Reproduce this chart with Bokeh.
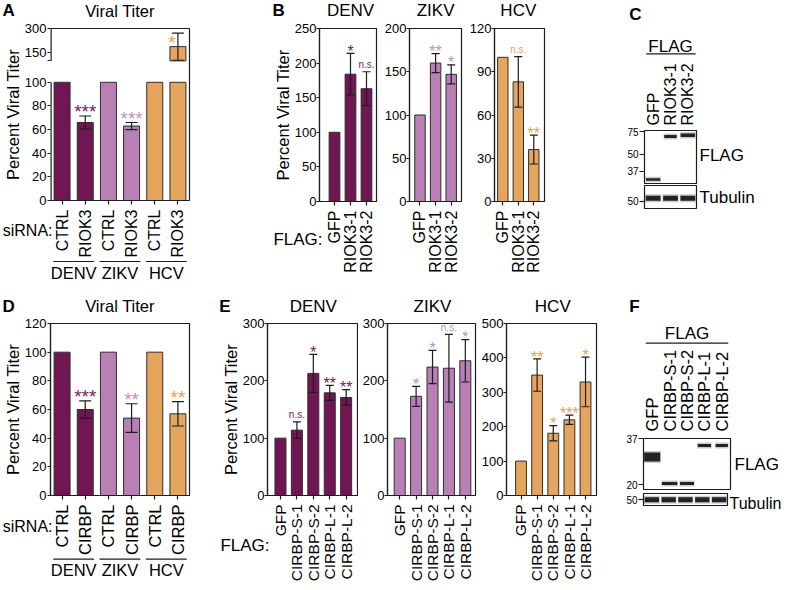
import math
from bokeh.plotting import figure
from bokeh.models import (Range1d, FixedTicker, LinearAxis, LogAxis, Whisker, TeeHead,
                          ColumnDataSource, BasicTickFormatter)
from bokeh.layouts import row, column
from bokeh.embed import file_html
from bokeh.resources import INLINE
from bokeh.core.properties import value

FONT = "Liberation Sans"
INK = "#1c1c1c"
EDGE = "#2e2e2e"
FILL = {"DENV": "#701652", "ZIKV": "#b980b6", "HCV": "#e6a55f"}
MARK = {"DENV": "#761a59", "ZIKV": "#c28ec0", "HCV": "#eaa04c"}

# ------------------------------------------------------------------ data
viruses = ["DENV", "ZIKV", "HCV"]

# A  (siRNA against RIOK3)
a_labels = ["CTRL", "RIOK3", "CTRL", "RIOK3", "CTRL", "RIOK3"]
a_virus = ["DENV", "DENV", "ZIKV", "ZIKV", "HCV", "HCV"]
a_values = [100, 66, 100, 63, 100, 188]
a_errors = [0, 5.5, 0, 3, 0, 84]
a_sig = ["", "***", "", "***", "", "*"]
a_ticks_low = [0, 20, 40, 60, 80, 100]
a_ticks_high = [150, 300]

# B  (FLAG-RIOK3 overexpression)
b_labels = ["GFP", "RIOK3-1", "RIOK3-2"]
b_denv = [100, 184, 163]
b_denv_err = [0, 30, 24.5]
b_denv_sig = ["", "*", "n.s."]
b_zikv = [100, 160, 147]
b_zikv_err = [0, 11, 11]
b_zikv_sig = ["", "**", "*"]
b_hcv = [100, 83, 36]
b_hcv_err = [0, 17.5, 10]
b_hcv_sig = ["", "n.s.", "**"]
b_denv_ticks = [0, 50, 100, 150, 200, 250]
b_zikv_ticks = [0, 50, 100, 150, 200]
b_hcv_ticks = [0, 30, 60, 90, 120]

# C  (western blot, kDa)
c_lanes = ["GFP", "RIOK3-1", "RIOK3-2"]
c_flag_kda = [31.9, 68.6, 70.2]
c_tub_kda = [53, 53, 53]
c_markers = [37, 50, 75]
c_tub_markers = [50]

# D  (siRNA against CIRBP)
d_labels = ["CTRL", "CIRBP", "CTRL", "CIRBP", "CTRL", "CIRBP"]
d_virus = ["DENV", "DENV", "ZIKV", "ZIKV", "HCV", "HCV"]
d_values = [100, 60, 100, 54, 100, 57]
d_errors = [0, 6, 0, 10, 0, 8.5]
d_sig = ["", "***", "", "**", "", "**"]
d_ticks = [0, 20, 40, 60, 80, 100, 120]

# E  (FLAG-CIRBP overexpression)
e_labels = ["GFP", "CIRBP-S-1", "CIRBP-S-2", "CIRBP-L-1", "CIRBP-L-2"]
e_denv = [100, 114, 213, 179, 171]
e_denv_err = [0, 14.5, 33, 13, 13.5]
e_denv_sig = ["", "n.s.", "*", "**", "**"]
e_zikv = [100, 173, 224, 222, 235]
e_zikv_err = [0, 17.5, 29, 59, 37]
e_zikv_sig = ["", "*", "*", "n.s.", "*"]
e_hcv = [100, 350, 181, 220, 330]
e_hcv_err = [0, 47, 22, 13.5, 72]
e_hcv_sig = ["", "**", "*", "***", "*"]
e_ticks_300 = [0, 100, 200, 300]
e_ticks_500 = [0, 100, 200, 300, 400, 500]

# F  (western blot, kDa)
f_lanes = ["GFP", "CIRBP-S-1", "CIRBP-S-2", "CIRBP-L-1", "CIRBP-L-2"]
f_flag_kda = [29.0, 20.4, 20.4, 33.8, 33.8]
f_tub_kda = [50, 50, 50, 50, 50]
f_markers = [20, 37]
f_tub_markers = [50]

# ------------------------------------------------------------------ broken axis (panel A)
BRK_LO = 100
BRK_GAP = 18.1
BRK_K = 27.4 / 200.0
U0 = BRK_LO + BRK_GAP


def brk(v):
    return v if v <= BRK_LO else U0 + (v - BRK_LO) * BRK_K


T_TOP = brk(300)

# main-panel borders above / below the frame (room for the end tick labels)
MB_TOP, MB_BOT = 8, 8


# ------------------------------------------------------------------ helpers
def no_align(p):
    try:
        p.frame_align = False
    except AttributeError:
        pass


def new_fig(w, h, borders, xr, yr, **kw):
    l, r, t, b = borders
    p = figure(width=w, height=h, x_range=Range1d(*xr), y_range=Range1d(*yr),
               output_backend="svg", toolbar_location=None, title=None,
               min_border_left=l, min_border_right=r, min_border_top=t, min_border_bottom=b,
               background_fill_color="white", border_fill_color="white", **kw)
    p.grid.visible = False
    p.outline_line_color = INK
    p.outline_line_width = 1.2
    no_align(p)
    return p


def strip_fig(w, h, left, right, xr):
    """Text strip whose x scale lines up with the frame of the panel below/above it."""
    a, b = xr
    k = (b - a) / (w - left - right)
    s = figure(width=w, height=h, x_range=Range1d(a - left * k, b + right * k),
               y_range=Range1d(h, 0), output_backend="svg", toolbar_location=None,
               title=None, x_axis_location=None, y_axis_location=None,
               min_border_left=0, min_border_right=0, min_border_top=0, min_border_bottom=0,
               background_fill_color="white", border_fill_color="white")
    s.grid.visible = False
    s.outline_line_color = None
    no_align(s)
    return s, a - left * k


def txt(s, xs, ys, texts, size, align="left", baseline="middle", dx=0, angle=0,
        bold=False, color="black"):
    s.text(x=xs, y=ys, text=texts, angle=angle, x_offset=dx, text_align=align,
           text_baseline=baseline, text_font=value(FONT), text_font_size=f"{size}px",
           text_font_style="bold" if bold else "normal", text_color=color)


def style_axis(ax, size="13px", tick_out=4, standoff=2):
    ax.axis_line_color = INK
    ax.axis_line_width = 1.2
    ax.major_tick_line_color = INK
    ax.major_tick_line_width = 1.2
    ax.major_tick_in = 0
    ax.major_tick_out = tick_out
    ax.minor_tick_line_color = None
    ax.minor_tick_in = 0
    ax.minor_tick_out = 0
    ax.major_label_text_font = FONT
    ax.major_label_text_font_size = size
    ax.major_label_text_color = "black"
    ax.major_label_standoff = standoff
    ax.axis_label_text_font = FONT
    ax.axis_label_text_font_style = "normal"
    ax.axis_label_text_font_size = "16.5px"
    ax.axis_label_text_color = "black"
    ax.axis_label_text_line_height = 1.0


def tick_only_xaxis(p, n):
    xa = p.xaxis[0]
    style_axis(xa, size="1px", tick_out=4, standoff=0)
    xa.ticker = FixedTicker(ticks=list(range(n)))
    xa.major_label_overrides = {i: "" for i in range(n)}


def cat_labels(s, labels, y, size):
    n = len(labels)
    txt(s, list(range(n)), [y] * n, labels, size, align="right", baseline="middle",
        angle=math.pi / 2)


def group_labels(s, line_y, text_y):
    centers = [2 * i + 0.5 for i in range(len(viruses))]
    s.segment(x0=[c - 0.88 for c in centers], y0=[line_y] * 3,
              x1=[c + 0.88 for c in centers], y1=[line_y] * 3,
              line_color=INK, line_width=1.2)
    txt(s, centers, [text_y] * 3, viruses, 16.5, align="center")


def draw_bars(p, values, errors, sig, virus, bar_w, cap, star_px, star_gap,
              broken=False, star_dx=None, star_gaps=None):
    n = len(values)
    xs = list(range(n))
    fill = [FILL[v] for v in virus]
    tf = brk if broken else (lambda v: v)
    if broken:
        p.vbar(x=xs, top=[min(v, BRK_LO) for v in values], width=bar_w,
               fill_color=fill, line_color=EDGE, line_width=1)
        hi = [i for i in xs if values[i] > BRK_LO]
        p.vbar(x=hi, bottom=[U0] * len(hi), top=[brk(values[i]) for i in hi], width=bar_w,
               fill_color=[fill[i] for i in hi], line_color=EDGE, line_width=1)
    else:
        p.vbar(x=xs, top=values, width=bar_w, fill_color=fill, line_color=EDGE, line_width=1)
    idx = [i for i in xs if errors[i] > 0]
    src = ColumnDataSource(dict(x=idx,
                                lower=[tf(values[i] - errors[i]) for i in idx],
                                upper=[tf(values[i] + errors[i]) for i in idx]))
    p.add_layout(Whisker(source=src, base="x", lower="lower", upper="upper",
                         dimension="height", line_color=INK, line_width=1.2, level="annotation",
                         upper_head=TeeHead(size=cap, line_color=INK, line_width=1.2),
                         lower_head=TeeHead(size=cap, line_color=INK, line_width=1.2)))
    sx, sy, st, sf, sc, sdx, sdy = [], [], [], [], [], [], []
    for i in xs:
        if not sig[i]:
            continue
        sx.append(i)
        sy.append(tf(values[i] + errors[i]))
        st.append(sig[i])
        sc.append(MARK[virus[i]])
        gap = star_gaps[i] if star_gaps else star_gap
        if sig[i] == "n.s.":
            sf.append("10px")
            dy = -6.9
        else:
            sf.append(f"{star_px}px")
            dy = -gap + 0.226 * star_px
        sdx.append(star_dx[i] if star_dx else 0)
        sdy.append(dy)
    ssrc = ColumnDataSource(dict(x=sx, y=sy, t=st, fs=sf, col=sc, dx=sdx, dy=sdy))
    p.text(x="x", y="y", text="t", text_font_size="fs", text_color="col",
           x_offset="dx", y_offset="dy", text_align="center", text_baseline="middle",
           text_font=value(FONT), source=ssrc)


def y_axis(p, ticks, tick_out, standoff, label=None, label_standoff=0):
    ya = p.yaxis[0]
    style_axis(ya, tick_out=tick_out, standoff=standoff)
    ya.ticker = FixedTicker(ticks=ticks)
    if label:
        ya.axis_label = label
        ya.axis_label_standoff = label_standoff
    return ya


def virus_column(w, left, right, xr, ymax, yticks, labels, values, errors, sig, virus,
                 top_h, frame_h, bot_h, title_y, lab_y, lab_px, ylabel=None, letter=None,
                 letter_dx=0, letter_y=0, flag_y=None, flag_dx=0, title_px=17):
    n = len(values)
    st, x0 = strip_fig(w, top_h, left, right, xr)
    txt(st, [(n - 1) / 2], [title_y], [virus], title_px, align="center")
    if letter:
        txt(st, [x0], [letter_y], [letter], 17, bold=True, dx=letter_dx)
    p = new_fig(w, frame_h + MB_TOP + MB_BOT, (left, right, MB_TOP, MB_BOT), xr, (0, ymax))
    tick_only_xaxis(p, n)
    y_axis(p, yticks, 3, 0, ylabel, 0)
    draw_bars(p, values, errors, sig, [virus] * n, 0.67, 8, 16, 5.5)
    sb, x0 = strip_fig(w, bot_h, left, right, xr)
    cat_labels(sb, labels, lab_y, lab_px)
    if flag_y is not None:
        txt(sb, [xr[0]], [flag_y], ["FLAG:"], 17, align="right", dx=flag_dx)
    return column(st, p, sb)


def blot_fig(w, h, borders, n, yr, markers, kda, band_px, band_w, lanes=None,
             lane_px=16, lane_standoff=5, side=None):
    p = new_fig(w, h, borders, (-0.5, n - 0.5), yr, y_axis_type="log",
                x_axis_location="above" if lanes else None)
    ya = p.yaxis[0]
    style_axis(ya, size="10px", tick_out=5, standoff=1)
    ya.axis_line_color = None
    ya.ticker = FixedTicker(ticks=markers)
    ya.formatter = BasicTickFormatter()
    if lanes:
        xa = p.xaxis[0]
        style_axis(xa, size=f"{lane_px}px", tick_out=0, standoff=lane_standoff)
        xa.axis_line_color = None
        xa.ticker = FixedTicker(ticks=list(range(n)))
        xa.major_label_overrides = dict(enumerate(lanes))
        xa.major_label_orientation = math.pi / 2
    if side:
        pos, text, size, standoff = side
        ax = LogAxis(ticker=FixedTicker(ticks=[pos]), major_label_overrides={pos: text})
        style_axis(ax, size=f"{size}px", tick_out=0, standoff=standoff)
        ax.axis_line_color = None
        p.add_layout(ax, "right")
    xs = list(range(n))
    p.rect(x=xs, y=kda, width=[bw + 0.08 for bw in band_w], height=[b + 3 for b in band_px],
           height_units="screen", fill_color="#111111", fill_alpha=0.22, line_color=None)
    p.rect(x=xs, y=kda, width=band_w, height=band_px, height_units="screen",
           fill_color="#111111", fill_alpha=0.9, line_color=None)
    return p


# ================================================================== TOP ROW (289 px)
# ---------------- panel A
A_W, A_L, A_R, A_XR = 268, 50, 79, (-0.5, 5.5)
sA_top, x0 = strip_fig(A_W, 20, A_L, A_R, A_XR)
txt(sA_top, [x0], [10], ["A"], 17, bold=True, dx=2)
txt(sA_top, [2.5], [10.4], ["Viral Titer"], 16.5, align="center")

pA = new_fig(A_W, 172 + MB_TOP + MB_BOT, (A_L, A_R, MB_TOP, MB_BOT), A_XR, (0, T_TOP))
pA.outline_line_color = None
tick_only_xaxis(pA, 6)
ya = y_axis(pA, a_ticks_low + [U0] + [brk(v) for v in a_ticks_high], 3, 1,
            "Percent Viral Titer", 0)
ya.axis_line_color = None
over = {U0: ""}
for v in a_ticks_high:
    over[brk(v)] = str(v)
ya.major_label_overrides = over
pA.segment(x0=[A_XR[0], A_XR[0]], y0=[0, U0], x1=[A_XR[0], A_XR[0]], y1=[BRK_LO, T_TOP],
           line_color=INK, line_width=2.4)
for side in ("above", "right"):
    ax = LinearAxis(ticker=FixedTicker(ticks=[]))
    style_axis(ax, tick_out=0, standoff=0)
    pA.add_layout(ax, side)
draw_bars(pA, a_values, a_errors, a_sig, a_virus, 0.69, 12, 19, 8.5, broken=True,
          star_dx=[0, 0, 0, 0, 0, -6], star_gaps=[8.5, 8.5, 8.5, 8.5, 8.5, -5.5])

sA_bot, x0 = strip_fig(A_W, 81, A_L, A_R, A_XR)
cat_labels(sA_bot, a_labels, 1, 16)
txt(sA_bot, [A_XR[0]], [21.9], ["siRNA:"], 16, align="right", dx=2)
group_labels(sA_bot, 53, 64.9)
colA = column(sA_top, pA, sA_bot)

# ---------------- panel B
colB1 = virus_column(113, 51, 5, (-0.9375, 2.625), 250, b_denv_ticks, b_labels,
                     b_denv, b_denv_err, b_denv_sig, "DENV", 20, 173, 80, 10, 1, 16,
                     ylabel="Percent Viral Titer", letter="B", letter_dx=4, letter_y=10,
                     flag_y=30, flag_dx=3)
colB2 = virus_column(85, 28, 5, (-0.673, 2.66), 200, b_zikv_ticks, b_labels,
                     b_zikv, b_zikv_err, b_zikv_sig, "ZIKV", 20, 173, 80, 10, 1, 16)
colB3 = virus_column(83, 28, 5, (-0.535, 2.69), 120, b_hcv_ticks, b_labels,
                     b_hcv, b_hcv_err, b_hcv_sig, "HCV", 20, 173, 80, 10, 1, 16)

# ---------------- panel C
C_W, C_L, C_R = 235, 95, 88
sC, x0 = strip_fig(C_W, 57, C_L, C_R, (-0.5, 2.5))
txt(sC, [x0], [14], ["C"], 17, bold=True, dx=79.7)
txt(sC, [1], [45.9], ["FLAG"], 17, align="center")
sC.segment(x0=[-0.4], y0=[53.3], x1=[2.45], y1=[53.3], line_color=INK, line_width=1.2)
pC1 = blot_fig(C_W, 127, (C_L, C_R, 73, 1), 3, (29.7, 76.35), c_markers, c_flag_kda,
               [2.5, 3, 3.5], [0.82, 0.72, 0.83], lanes=c_lanes, lane_px=16, lane_standoff=5,
               side=(48.9, "FLAG", 17, 3))
pC2 = blot_fig(C_W, 105, (C_L, C_R, 1, 81), 3, (44.1, 66.5), c_tub_markers, c_tub_kda,
               [5, 5, 5], [0.85, 0.85, 0.85], side=(54.0, "Tubulin", 17, 3))
colC = column(sC, pC1, pC2)

# ================================================================== BOTTOM ROW (293 px)
# ---------------- panel D
D_W, D_L, D_R, D_XR = 217, 50, 28, (-0.5, 5.5)
sD_top, x0 = strip_fig(D_W, 26, D_L, D_R, D_XR)
txt(sD_top, [x0], [16.5], ["D"], 17, bold=True, dx=2)
txt(sD_top, [2.5], [16.7], ["Viral Titer"], 16.5, align="center")
pD = new_fig(D_W, 172 + MB_TOP + MB_BOT, (D_L, D_R, MB_TOP, MB_BOT), D_XR, (0, 120))
tick_only_xaxis(pD, 6)
y_axis(pD, d_ticks, 3, 1, "Percent Viral Titer", 0)
draw_bars(pD, d_values, d_errors, d_sig, d_virus, 0.69, 12, 19, 8.5)
sD_bot, x0 = strip_fig(D_W, 79, D_L, D_R, D_XR)
cat_labels(sD_bot, d_labels, 1, 16.5)
txt(sD_bot, [D_XR[0]], [23], ["siRNA:"], 16, align="right", dx=2)
group_labels(sD_bot, 55.7, 66.5)
colD = column(sD_top, pD, sD_bot)

# ---------------- panel E
colE1 = virus_column(141, 50, 1, (-0.79, 4.69), 300, e_ticks_300, e_labels,
                     e_denv, e_denv_err, e_denv_sig, "DENV", 26, 172, 79, 16.7, 1, 15.5,
                     ylabel="Percent Viral Titer", letter="E", letter_dx=1.7, letter_y=16.5,
                     flag_y=42.3, flag_dx=2)
colE2 = virus_column(120, 29, 3, (-0.744, 4.62), 300, e_ticks_300, e_labels,
                     e_zikv, e_zikv_err, e_zikv_sig, "ZIKV", 26, 172, 79, 16.7, 1, 15.5)
colE3 = virus_column(123, 27, 5, (-0.90, 4.68), 500, e_ticks_500, e_labels,
                     e_hcv, e_hcv_err, e_hcv_sig, "HCV", 26, 172, 79, 16.7, 1, 15.5)

# ---------------- panel F
F_W, F_L, F_R = 183, 42, 54
sF, x0 = strip_fig(F_W, 57, F_L, F_R, (-0.5, 4.5))
txt(sF, [x0], [17], ["F"], 17, bold=True, dx=27.7)
txt(sF, [2], [43.5], ["FLAG"], 17, align="center")
sF.segment(x0=[-0.37], y0=[53.7], x1=[4.37], y1=[53.7], line_color=INK, line_width=1.2)
pF1 = blot_fig(F_W, 145, (F_L, F_R, 91, 2), 5, (18.8, 37.15), f_markers, f_flag_kda,
               [9, 3, 3, 3, 3], [0.92, 0.88, 0.8, 0.76, 0.7], lanes=f_lanes,
               lane_px=16.5, lane_standoff=7, side=(26.3, "FLAG", 17, 4))
pF2 = blot_fig(F_W, 91, (F_L, F_R, 2, 77), 5, (46.4, 54.3), f_tub_markers, f_tub_kda,
               [5, 5, 5, 5, 5], [0.85] * 5, side=(47.4, "Tubulin", 16, 2))
colF = column(sF, pF1, pF2)

# ------------------------------------------------------------------ layout
top = row(colA, colB1, colB2, colB3, colC)
bottom = row(colD, colE1, colE2, colE3, colF)
page = column(top, bottom)

open("out.html", "w").write(file_html(page, INLINE))
